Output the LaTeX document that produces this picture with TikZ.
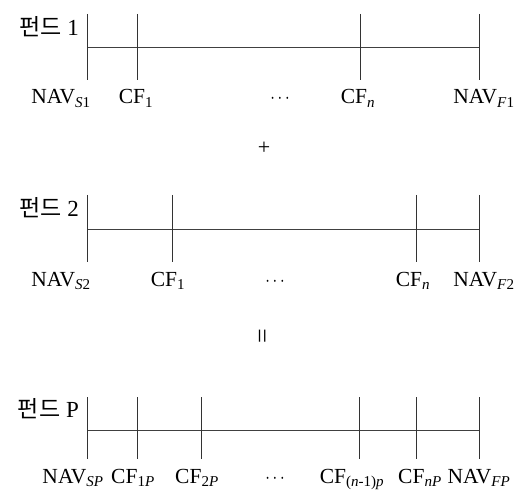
\documentclass[tikz,border=0pt]{standalone}
\usepackage{fontspec}
\usepackage{graphicx}
\setmainfont{Liberation Serif}
\newfontfamily\cjk{Noto Sans CJK KR}
\newcommand{\mydots}{\scalebox{0.8}[1]{$\cdots$}}
\begin{document}
\begin{tikzpicture}[x=1pt,y=-1pt,
  axis/.style={draw=black!75, line width=0.8pt},
  tick/.style={draw=black!80, line width=0.8pt},
  lab/.style={font=\fontsize{21.5}{24}\selectfont, inner sep=0pt, anchor=base},
  ttl/.style={font=\fontsize{23}{26}\selectfont, inner sep=0pt, anchor=base east},
  op/.style={font=\fontsize{22}{24}\selectfont, inner sep=0pt}]
\useasboundingbox (0,0) rectangle (520,492);
% ---- Fund 1
\node[ttl] (t1) at (79,36) {{\cjk 펀드} 1};
\draw[axis] (87,47) coordinate (a0) -- (479,47) coordinate (a4);
\foreach \x/\n in {87/a, 137/b, 360/c, 479/d}{
  \draw[tick] (\x,14) coordinate (\n t) -- (\x,80) coordinate (\n b);}
\node[lab] (l11) at (61,104) {NAV\textsubscript{\textit{S}1}};
\node[lab] (l12) at (136,104) {CF\textsubscript{1}};
\node[lab] (l13) at (280,104) {\mydots};
\node[lab] (l14) at (358,104) {CF\textsubscript{\textit{n}}};
\node[lab] (l15) at (484,104) {NAV\textsubscript{\textit{F}1}};
\node[op] (plus) at (264,148) {+};
% ---- Fund 2
\node[ttl] (t2) at (79,217) {{\cjk 펀드} 2};
\draw[axis] (87,229) coordinate (b0) -- (479,229) coordinate (b4);
\foreach \x/\n in {87/e, 172/f, 416/g, 479/h}{
  \draw[tick] (\x,195) coordinate (\n t) -- (\x,262) coordinate (\n b);}
\node[lab] (l21) at (61,286) {NAV\textsubscript{\textit{S}2}};
\node[lab] (l22) at (168,286) {CF\textsubscript{1}};
\node[lab] (l23) at (275,286) {\mydots};
\node[lab] (l24) at (413,286) {CF\textsubscript{\textit{n}}};
\node[lab] (l25) at (484,286) {NAV\textsubscript{\textit{F}2}};
\node[op, rotate=90, font=\fontsize{26}{28}\selectfont] (eq) at (265,336) {=};
% ---- Fund P
\node[ttl] (t3) at (79,417) {{\cjk 펀드} P};
\draw[axis] (87,430) coordinate (c0) -- (479,430) coordinate (c4);
\foreach \x/\n in {87/i, 137/j, 201/k, 359/l, 416/m, 479/o}{
  \draw[tick] (\x,397) coordinate (\n t) -- (\x,459) coordinate (\n b);}
\node[lab] (l31) at (73,483) {NAV\textsubscript{\textit{SP}}};
\node[lab] (l32) at (133,483) {CF\textsubscript{1\textit{P}}};
\node[lab] (l33) at (197,483) {CF\textsubscript{2\textit{P}}};
\node[lab] (l34) at (275,483) {\mydots};
\node[lab] (l35) at (352,483) {CF\textsubscript{(\textit{n}-1)\textit{p}}};
\node[lab] (l36) at (420,483) {CF\textsubscript{\textit{nP}}};
\node[lab] (l37) at (479,483) {NAV\textsubscript{\textit{FP}}};
\end{tikzpicture}
\end{document}
